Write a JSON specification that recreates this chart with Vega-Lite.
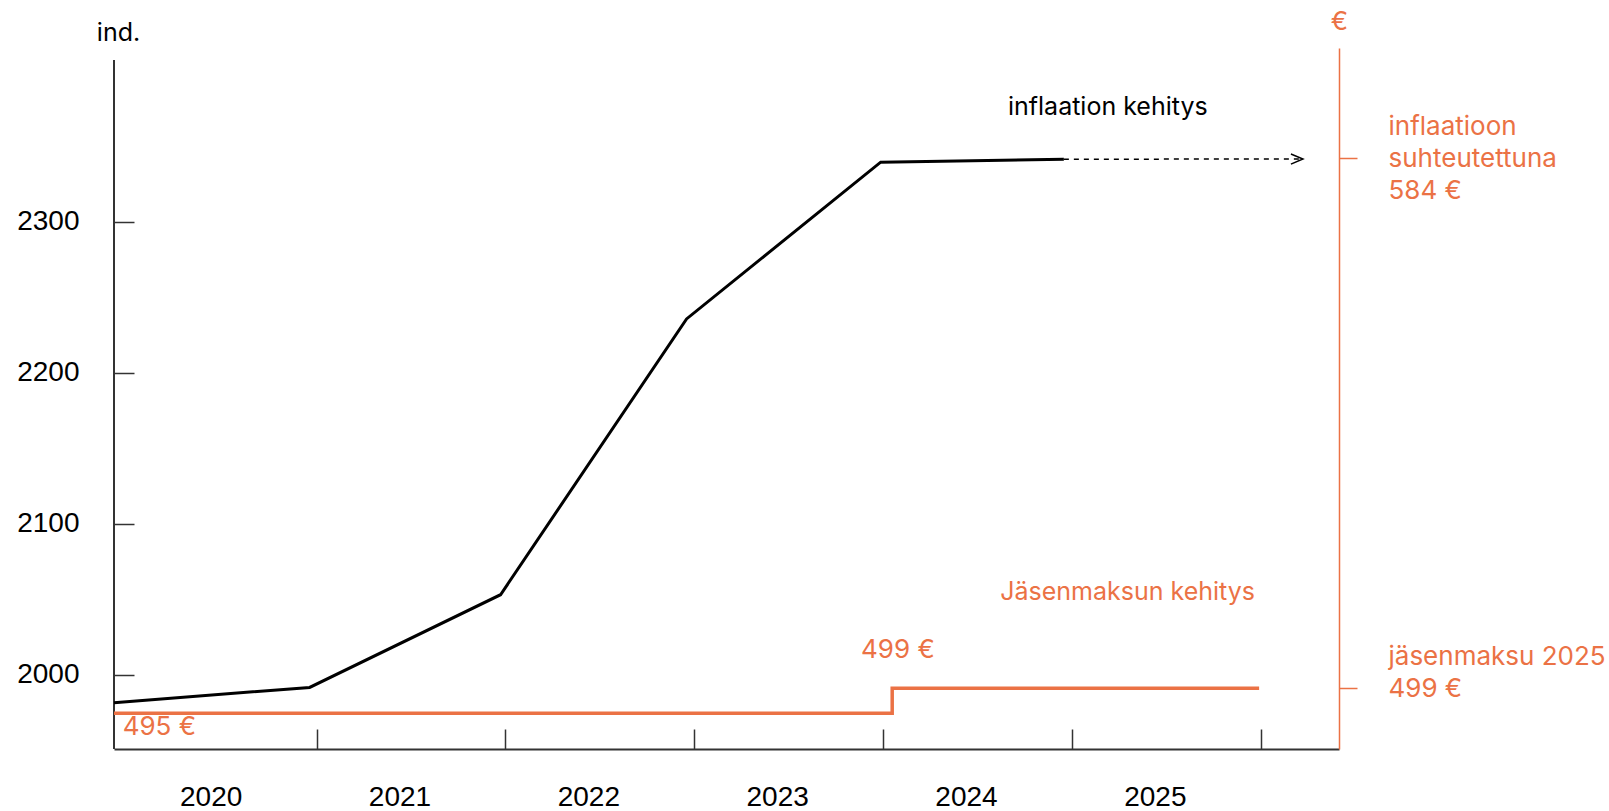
{
  "$schema": "https://vega.github.io/schema/vega-lite/v6.json",
  "width": 1225,
  "height": 701,
  "autosize": "none",
  "padding": {"left": 114, "top": 48, "right": 270, "bottom": 62},
  "background": "white",
  "config": {"view": {"stroke": null}, "font": "Inter"},
  "datasets": {
    "inflation": [
      {"year": 2019.927, "index": 1981.4},
      {"year": 2020.963, "index": 1991.5},
      {"year": 2021.974, "index": 2052.9},
      {"year": 2022.959, "index": 2235.6},
      {"year": 2023.987, "index": 2339.4},
      {"year": 2024.957, "index": 2341.4}
    ],
    "projection": [
      {"year": 2024.957, "index": 2341.4},
      {"year": 2026.223, "index": 2341.5}
    ],
    "fee": [
      {"year": 2019.927, "fee": 495},
      {"year": 2024.048, "fee": 499},
      {"year": 2025.991, "fee": 499}
    ]
  },
  "layer": [
    {
      "layer": [
        {
          "data": {"values": [{}]},
          "mark": {"type": "rule", "color": "#333333", "strokeWidth": 2},
          "encoding": {
            "x": {"datum": 2019.927, "type": "quantitative"},
            "y": {"datum": 1950.7, "type": "quantitative"},
            "y2": {"datum": 2407.1}
          }
        },
        {
          "data": {"name": "inflation"},
          "mark": {"type": "line", "color": "#000000", "strokeWidth": 3, "strokeJoin": "miter"},
          "encoding": {
            "x": {
              "field": "year", "type": "quantitative",
              "scale": {"domain": [2019.927, 2026.414], "nice": false, "zero": false},
              "axis": {
                "orient": "bottom", "title": null, "grid": false,
                "values": [2021, 2022, 2023, 2024, 2025, 2026],
                "labelExpr": "'' + (datum.value - 1)",
                "labelOffset": -106, "labelAlign": "center",
                "tickSize": -20, "tickColor": "#333333", "tickWidth": 1.5,
                "labelPadding": 54,
                "domainColor": "#333333", "domainWidth": 2,
                "labelFont": "Liberation Sans", "labelFontSize": 28, "labelColor": "#000000",
                "labelFlush": false, "labelOverlap": false
              }
            },
            "y": {
              "field": "index", "type": "quantitative",
              "scale": {"domain": [1950.7, 2415.05], "nice": false, "zero": false},
              "axis": {
                "orient": "left", "grid": false, "domain": false,
                "values": [2000, 2100, 2200, 2300], "format": "d",
                "tickSize": -20, "tickColor": "#333333", "tickWidth": 1.5,
                "labelPadding": 55,
                "labelFont": "Liberation Sans", "labelFontSize": 28, "labelColor": "#000000",
                "labelOverlap": false, "labelFlush": false,
                "title": "ind.", "titleAngle": 0, "titleX": 4, "titleY": -16,
                "titleAlign": "center", "titleBaseline": "middle",
                "titleFont": "Inter", "titleFontSize": 25, "titleFontWeight": "normal", "titleColor": "#000000"
              }
            }
          }
        },
        {
          "data": {"name": "projection"},
          "mark": {"type": "line", "color": "#000000", "strokeWidth": 1.5, "strokeDash": [5, 5]},
          "encoding": {
            "x": {"field": "year", "type": "quantitative"},
            "y": {"field": "index", "type": "quantitative"}
          }
        },
        {
          "data": {"name": "projection"},
          "transform": [{"filter": "datum.year > 2026"}],
          "mark": {"type": "point", "shape": "M-1,-0.42L0,0L-1,0.42", "size": 576, "filled": false, "stroke": "#000000", "strokeWidth": 1.5, "opacity": 1},
          "encoding": {
            "x": {"field": "year", "type": "quantitative"},
            "y": {"field": "index", "type": "quantitative"}
          }
        },
        {
          "data": {"values": [{}]},
          "mark": {"type": "text", "text": "inflaation kehitys", "align": "left", "baseline": "middle", "font": "Inter", "fontSize": 25, "color": "#000000"},
          "encoding": {
            "x": {"datum": 2024.661, "type": "quantitative"},
            "y": {"datum": 2376.2, "type": "quantitative"}
          }
        }
      ]
    },
    {
      "layer": [
        {
          "data": {"name": "fee"},
          "mark": {"type": "line", "color": "#EB7245", "strokeWidth": 3.5, "interpolate": "step-after"},
          "encoding": {
            "x": {"field": "year", "type": "quantitative"},
            "y": {
              "field": "fee", "type": "quantitative",
              "scale": {"domain": [489.25, 601.68], "nice": false, "zero": false},
              "axis": {
                "orient": "right", "grid": false,
                "values": [499, 584],
                "domainColor": "#EB7245", "domainWidth": 1.5,
                "tickColor": "#EB7245", "tickWidth": 1.5, "tickSize": 18,
                "labelPadding": 31,
                "labelExpr": "datum.value == 584 ? ['inflaatioon', 'suhteutettuna', '584 €'] : ['jäsenmaksu 2025', '499 €']",
                "labelAlign": "left", "labelBaseline": "middle", "labelLineHeight": 32,
                "labelOffset": -32, "labelLimit": 400,
                "labelFont": "Inter", "labelFontSize": 26, "labelColor": "#EB7245",
                "labelOverlap": false, "labelFlush": false,
                "title": "€", "titleAngle": 0, "titleX": 0, "titleY": -27,
                "titleAlign": "center", "titleBaseline": "middle",
                "titleFont": "Inter", "titleFontSize": 26, "titleFontWeight": "normal", "titleColor": "#EB7245"
              }
            }
          }
        },
        {
          "data": {"values": [{}]},
          "mark": {"type": "text", "text": "Jäsenmaksun kehitys", "align": "right", "baseline": "middle", "font": "Inter", "fontSize": 25, "color": "#EB7245"},
          "encoding": {
            "x": {"datum": 2025.969, "type": "quantitative"},
            "y": {"datum": 514.5, "type": "quantitative"}
          }
        },
        {
          "data": {"values": [{}]},
          "mark": {"type": "text", "text": "499 €", "align": "center", "baseline": "middle", "font": "Inter", "fontSize": 26, "color": "#EB7245"},
          "encoding": {
            "x": {"datum": 2024.078, "type": "quantitative"},
            "y": {"datum": 505.2, "type": "quantitative"}
          }
        },
        {
          "data": {"values": [{}]},
          "mark": {"type": "text", "text": "495 €", "align": "left", "baseline": "middle", "font": "Inter", "fontSize": 26, "color": "#EB7245"},
          "encoding": {
            "x": {"datum": 2019.973, "type": "quantitative"},
            "y": {"datum": 492.7, "type": "quantitative"}
          }
        }
      ]
    }
  ],
  "resolve": {"scale": {"y": "independent"}}
}
